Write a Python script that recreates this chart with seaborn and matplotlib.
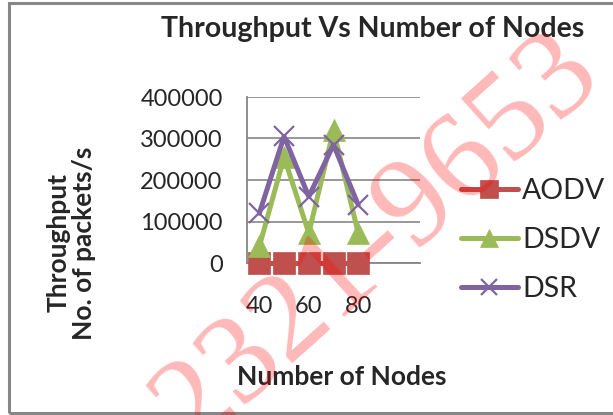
import matplotlib
import matplotlib.pyplot as plt
import seaborn as sns
import pandas as pd
from matplotlib.patches import Rectangle

matplotlib.use('Agg')

nodes = [40, 50, 60, 70, 80]
aodv = [0, 0, 0, 0, 0]
dsdv = [40000, 255000, 72000, 320000, 72000]
dsr = [120000, 305000, 160000, 285000, 140000]
yticks = [0, 100000, 200000, 300000, 400000]
xticks = [40, 60, 80]

sns.set_style("white")
plt.rcParams['font.family'] = ['Lato', 'DejaVu Sans']

W, H = 613, 415
fig = plt.figure(figsize=(W / 100, H / 100), dpi=100)
ax = fig.add_axes([247 / W, 1 - 263 / H, (420 - 247) / W, (263 - 97) / H])

grey = '#868686'
series = [('AODV', aodv, '#C0504D', 's', 15.5),
          ('DSDV', dsdv, '#9BBB59', '^', 16),
          ('DSR', dsr, '#8064A2', 'x', 14)]
for name, vals, col, mk, ms in series:
    df = pd.DataFrame({'nodes': nodes, 'tp': vals})
    sns.lineplot(data=df, x='nodes', y='tp', ax=ax, color=col, lw=3.6,
                 marker=mk, markersize=ms, markeredgecolor=col,
                 markerfacecolor=col, markeredgewidth=1.6 if mk == 'x' else 0.5,
                 label=name, zorder=3, clip_on=False)

ax.set_xlim(35, 105)
ax.set_ylim(0, 400000)
ax.set_yticks(yticks)
ax.set_yticklabels([str(v) for v in yticks])
ax.set_xticks(xticks)
ax.set_xticklabels([str(v) for v in xticks])
ax.yaxis.grid(True, color=grey, lw=1.2)
ax.set_axisbelow(True)
for s in ['top', 'right']:
    ax.spines[s].set_visible(False)
for s in ['left', 'bottom']:
    ax.spines[s].set_color(grey)
    ax.spines[s].set_linewidth(1.3)
ax.tick_params(axis='y', labelsize=17, length=6.5, width=1.2, color=grey, pad=11)
ax.tick_params(axis='x', labelsize=17, length=0, pad=24)
ax.set(xlabel='', ylabel='')

leg = ax.legend(loc='center left', bbox_to_anchor=(461 / W, 1 - 240 / H),
                bbox_transform=fig.transFigure, frameon=False, fontsize=20.5,
                handlelength=2.0, handletextpad=0.15, labelspacing=0.82,
                borderpad=0, borderaxespad=0, markerscale=0.8)

fig.text(373 / W, 1 - 29 / H, 'Throughput Vs Number of Nodes', ha='center',
         va='center', fontsize=20.5, fontweight='bold')
fig.text(342 / W, 1 - 377 / H, 'Number of Nodes', ha='center', va='center',
         fontsize=19, fontweight='bold')
fig.text(71 / W, 1 - 243 / H, 'Throughput\nNo. of packets/s', ha='center',
         va='center', rotation=90, fontsize=19, fontweight='bold',
         linespacing=1.05)

# outer chart frame
fig.patches.append(Rectangle((9 / W, 2 / H), 1, 1 - 5 / H, transform=fig.transFigure,
                             fill=False, edgecolor='#878787', lw=2.2))

# watermark
fig.text(378 / W, 1 - 240 / H, '2321-9653', rotation=42, ha='center', va='center',
         fontsize=92, family='Liberation Serif',
         color='red', alpha=0.28, zorder=10)

fig.savefig('out.png', dpi=100)
